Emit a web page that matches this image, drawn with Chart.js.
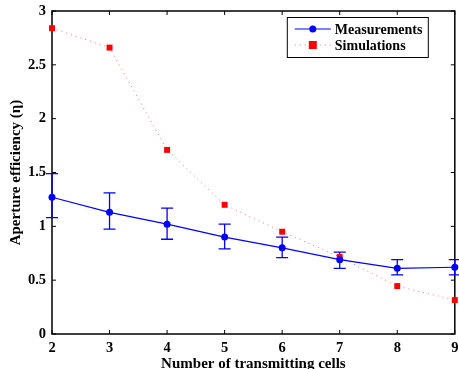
<!DOCTYPE html>
<html>
<head>
<meta charset="utf-8">
<script src="https://cdn.jsdelivr.net/npm/chart.js@4/dist/chart.umd.min.js"></script>
<style>
  html, body { margin: 0; padding: 0; background: #fff; }
  #wrap { width: 459px; height: 369px; }
</style>
</head>
<body>
<div id="wrap"><canvas id="chart" width="459" height="369"></canvas></div>
<script>
/* =====================
Data
===================== */

var cells = [2, 3, 4, 5, 6, 7, 8, 9];
var measured = [1.27, 1.13, 1.02, 0.90, 0.80, 0.69, 0.61, 0.62];
var measuredUpper = [1.49, 1.31, 1.17, 1.02, 0.90, 0.76, 0.69, 0.69];
var measuredLower = [1.08, 0.975, 0.88, 0.79, 0.71, 0.61, 0.55, 0.55];
var simulated = [2.84, 2.66, 1.71, 1.20, 0.95, 0.715, 0.445, 0.315];
var seriesNames = ['Measurements', 'Simulations'];
var xTitle = 'Number of transmitting cells';
var yTitle = 'Aperture efficiency (\u03b7)';

var FONT = 'Liberation Serif, Times New Roman, serif';
var BLUE = '#0000ff';
var RED = '#ff0000';

// pair up x and y for the linear x scale
var toPoints = function(ys) {
  return cells.map(function(c, i) { return {x: c, y: ys[i]}; });
};

// MATLAB style box with inward ticks
var boxPlugin = {
  id: 'box',
  beforeDatasetsDraw: function(chart) {
    var ctx = chart.ctx;
    var a = chart.chartArea;
    var xs = chart.scales.x, ys = chart.scales.y;
    ctx.save();
    ctx.strokeStyle = '#000';
    ctx.lineWidth = 1.5;
    ctx.strokeRect(a.left, a.top, a.right - a.left, a.bottom - a.top);
    ctx.lineWidth = 1;
    ctx.beginPath();
    xs.ticks.forEach(function(t) {
      var px = xs.getPixelForValue(t.value);
      ctx.moveTo(px, a.bottom); ctx.lineTo(px, a.bottom - 4);
      ctx.moveTo(px, a.top); ctx.lineTo(px, a.top + 4);
    });
    ys.ticks.forEach(function(t) {
      var py = ys.getPixelForValue(t.value);
      ctx.moveTo(a.left, py); ctx.lineTo(a.left + 4, py);
      ctx.moveTo(a.right, py); ctx.lineTo(a.right - 4, py);
    });
    ctx.stroke();

    // error bars on the measurements
    ctx.strokeStyle = BLUE;
    ctx.lineWidth = 1.3;
    ctx.beginPath();
    cells.forEach(function(c, i) {
      var px = xs.getPixelForValue(c);
      var top = ys.getPixelForValue(measuredUpper[i]);
      var bot = ys.getPixelForValue(measuredLower[i]);
      ctx.moveTo(px, top); ctx.lineTo(px, bot);
      ctx.moveTo(px - 6, top); ctx.lineTo(px + 6, top);
      ctx.moveTo(px - 6, bot); ctx.lineTo(px + 6, bot);
    });
    ctx.stroke();
    ctx.restore();
  }
};

// boxed legend in the top right corner, line + marker samples
var legendPlugin = {
  id: 'boxLegend',
  afterDraw: function(chart) {
    var ctx = chart.ctx;
    var a = chart.chartArea;
    var right = a.right - 27, top = a.top + 6;
    var left = right - 141, h = 40;
    ctx.save();
    ctx.fillStyle = '#fff';
    ctx.fillRect(left, top, right - left, h);
    ctx.strokeStyle = '#000';
    ctx.lineWidth = 1;
    ctx.strokeRect(left + 0.5, top + 0.5, right - left, h);

    chart.data.datasets.forEach(function(ds, i) {
      var y = top + 12 + i * 16;
      var x0 = left + 8, x1 = left + 44, xm = (x0 + x1) / 2;
      ctx.strokeStyle = ds.borderColor;
      ctx.lineWidth = ds.borderWidth;
      ctx.setLineDash(ds.borderDash || []);
      ctx.beginPath();
      ctx.moveTo(x0, y); ctx.lineTo(x1, y);
      ctx.stroke();
      ctx.setLineDash([]);
      ctx.fillStyle = ds.pointBackgroundColor;
      if (ds.pointStyle === 'rect') {
        ctx.fillRect(xm - 4, y - 4, 8, 8);
      } else {
        ctx.beginPath();
        ctx.arc(xm, y, 3.5, 0, Math.PI * 2);
        ctx.fill();
      }
      ctx.fillStyle = '#000';
      ctx.font = 'bold 14px ' + FONT;
      ctx.textBaseline = 'middle';
      ctx.fillText(ds.label, left + 48, y + 1);
    });
    ctx.restore();
  }
};

var ctxChart = document.getElementById('chart');
var chart = new Chart(ctxChart, {
  type: 'line',
  data: {
    datasets: [
      {
        label: seriesNames[0],
        data: toPoints(measured),
        borderColor: BLUE,
        backgroundColor: BLUE,
        pointBackgroundColor: BLUE,
        pointBorderColor: BLUE,
        pointStyle: 'circle',
        pointRadius: 3.5,
        pointBorderWidth: 0,
        borderWidth: 1.2,
        tension: 0,
        clip: false
      },
      {
        label: seriesNames[1],
        data: toPoints(simulated),
        borderColor: 'rgba(255, 90, 90, 0.85)',
        backgroundColor: RED,
        pointBackgroundColor: RED,
        pointBorderColor: RED,
        pointStyle: 'rect',
        pointRadius: 4.2,
        pointBorderWidth: 0,
        borderWidth: 1,
        borderDash: [1, 4],
        tension: 0,
        clip: false
      }
    ]
  },
  options: {
    responsive: false,
    animation: false,
    layout: { padding: { left: 0, top: 11, right: 3, bottom: 0 } },
    plugins: {
      legend: { display: false },
      tooltip: { enabled: false }
    },
    scales: {
      x: {
        type: 'linear',
        min: 2,
        max: 9,
        grid: { display: false, drawTicks: false },
        border: { display: false },
        ticks: {
          stepSize: 1,
          padding: 6,
          color: '#000',
          maxRotation: 0,
          font: { family: FONT, size: 14.5, weight: 'bold' }
        },
        title: {
          display: true,
          text: xTitle,
          color: '#000',
          padding: { top: 0, bottom: -3 },
          font: { family: FONT, size: 15, weight: 'bold', lineHeight: 1 }
        },
        afterFit: function(scale) {
          scale.height = 35;
          scale.paddingLeft = 0;
          scale.paddingRight = 0;
        }
      },
      y: {
        min: 0,
        max: 3,
        grid: { display: false, drawTicks: false },
        border: { display: false },
        ticks: {
          stepSize: 0.5,
          padding: 6,
          color: '#000',
          font: { family: FONT, size: 14.5, weight: 'bold' },
          callback: function(v) { return String(v); }
        },
        title: {
          display: true,
          text: yTitle,
          color: '#000',
          padding: { top: 7, bottom: 0 },
          font: { family: FONT, size: 15, weight: 'bold' }
        },
        afterFit: function(scale) {
          scale.width = 52;
          scale.paddingTop = 0;
          scale.paddingBottom = 0;
        }
      }
    }
  },
  plugins: [boxPlugin, legendPlugin]
});
</script>
</body>
</html>
